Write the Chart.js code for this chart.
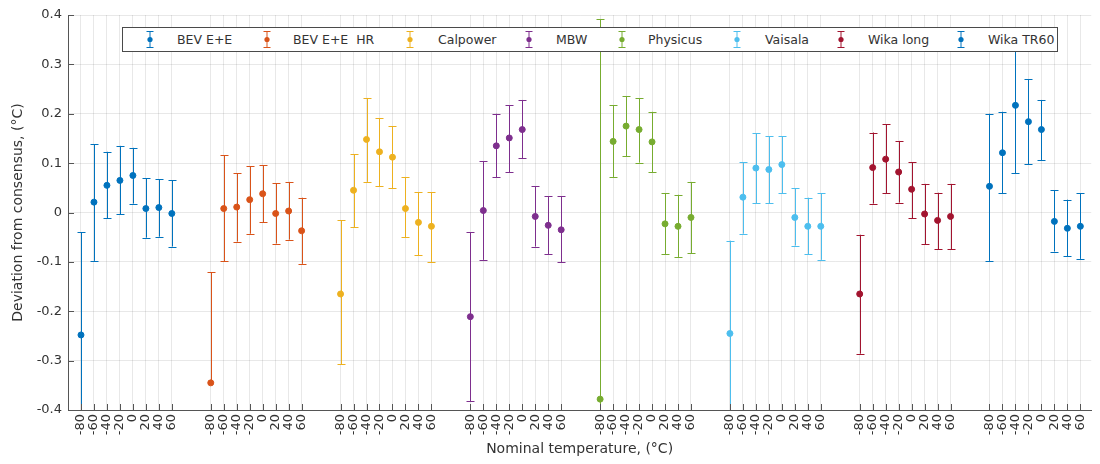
<!DOCTYPE html>
<html>
<head>
<meta charset="utf-8">
<script src="https://cdn.jsdelivr.net/npm/chart.js@4.4.1/dist/chart.umd.min.js"></script>
<style>
  html, body { margin: 0; padding: 0; background: #fff; }
  #wrap { position: relative; width: 1100px; height: 464px; }
  #legend {
    position: absolute; left: 122px; top: 27px; width: 934px; height: 23px;
    border: 1px solid #4a4a4a; background: #fff;
    font: 12.5px "DejaVu Sans", sans-serif; color: #333;
  }
  .item { position: absolute; top: 0; height: 23px; line-height: 23px; white-space: pre; }
  .icon { position: absolute; top: 2px; }
</style>
</head>
<body>
<div id="wrap">
  <canvas id="chart"></canvas>
  <div id="legend"></div>
</div>
<script>
// Nominal temperatures (tick labels) and instruments
const temps = ['-80', '-60', '-40', '-20', '0', '20', '40', '60'];
const instruments = ['BEV E+E', 'BEV E+E  HR', 'Calpower', 'MBW', 'Physicus', 'Vaisala', 'Wika long', 'Wika TR60'];
const colors = ['#0072BD', '#D95319', '#EDB120', '#7E2F8E', '#77AC30', '#4DBEEE', '#A2142F', '#0072BD'];
const groupGap = 2; // empty slots between two instruments

// Deviation from consensus (°C), lower and upper end of each error bar
const bevEe = [-0.248, 0.021, 0.055, 0.065, 0.075, 0.008, 0.010, -0.002];
const bevEeLo = [-0.456, -0.098, -0.012, -0.004, 0.018, -0.051, -0.049, -0.069];
const bevEeHi = [-0.040, 0.138, 0.123, 0.135, 0.131, 0.069, 0.067, 0.065];

const bevHr = [-0.345, 0.008, 0.011, 0.026, 0.038, -0.002, 0.003, -0.037];
const bevHrLo = [-0.345, -0.099, -0.059, -0.043, -0.020, -0.063, -0.055, -0.104];
const bevHrHi = [-0.121, 0.116, 0.080, 0.094, 0.096, 0.059, 0.062, 0.030];

const calpower = [-0.165, 0.045, 0.148, 0.123, 0.112, 0.008, -0.020, -0.028];
const calpowerLo = [-0.307, -0.030, 0.062, 0.053, 0.049, -0.050, -0.087, -0.100];
const calpowerHi = [-0.016, 0.118, 0.232, 0.191, 0.175, 0.072, 0.041, 0.041];

const mbw = [-0.211, 0.004, 0.135, 0.151, 0.168, -0.008, -0.026, -0.035];
const mbwLo = [-0.382, -0.096, 0.071, 0.082, 0.110, -0.069, -0.085, -0.101];
const mbwHi = [-0.040, 0.104, 0.200, 0.217, 0.228, 0.053, 0.033, 0.033];

const physicus = [-0.378, 0.144, 0.175, 0.168, 0.143, -0.023, -0.028, -0.010];
const physicusLo = [-1.150, 0.072, 0.114, 0.101, 0.082, -0.084, -0.090, -0.083];
const physicusHi = [0.392, 0.217, 0.236, 0.231, 0.204, 0.039, 0.036, 0.062];

const vaisala = [-0.245, 0.031, 0.090, 0.087, 0.097, -0.010, -0.028, -0.028];
const vaisalaLo = [-0.433, -0.043, 0.019, 0.019, 0.039, -0.067, -0.085, -0.096];
const vaisalaHi = [-0.057, 0.102, 0.160, 0.154, 0.154, 0.049, 0.030, 0.039];

const wikaLong = [-0.165, 0.091, 0.108, 0.082, 0.047, -0.003, -0.016, -0.008];
const wikaLongLo = [-0.286, 0.018, 0.039, 0.020, -0.012, -0.064, -0.074, -0.074];
const wikaLongHi = [-0.045, 0.162, 0.179, 0.145, 0.102, 0.058, 0.040, 0.058];

const wikaTr60 = [0.053, 0.121, 0.217, 0.184, 0.168, -0.018, -0.032, -0.028];
const wikaTr60Lo = [-0.098, 0.039, 0.079, 0.098, 0.106, -0.079, -0.089, -0.094];
const wikaTr60Hi = [0.200, 0.204, 0.340, 0.270, 0.228, 0.045, 0.026, 0.039];

const yTicks = [-0.4, -0.3, -0.2, -0.1, 0, 0.1, 0.2, 0.3, 0.4];

const series = [
    [bevEe, bevEeLo, bevEeHi],
    [bevHr, bevHrLo, bevHrHi],
    [calpower, calpowerLo, calpowerHi],
    [mbw, mbwLo, mbwHi],
    [physicus, physicusLo, physicusHi],
    [vaisala, vaisalaLo, vaisalaHi],
    [wikaLong, wikaLongLo, wikaLongHi],
    [wikaTr60, wikaTr60Lo, wikaTr60Hi]
];

const period = temps.length + groupGap;
const positions = [];
instruments.forEach((_, g) => temps.forEach((_, i) => positions.push(g * period + i)));

const datasets = series.map(([val, lo, hi], g) => ({
    label: instruments[g],
    data: val.map((v, i) => ({ x: g * period + i, y: v, lo: lo[i], hi: hi[i] })),
    borderColor: colors[g],
    backgroundColor: colors[g],
    pointRadius: 3,
    pointBorderWidth: 1,
    showLine: false
}));

// Draw vertical error bars with caps, clipped to the plot area
const errorBars = {
    id: 'errorBars',
    beforeDatasetsDraw(chart) {
        const { ctx, chartArea: a, scales: { x, y } } = chart;
        ctx.save();
        ctx.beginPath();
        ctx.rect(a.left, a.top, a.right - a.left, a.bottom - a.top);
        ctx.clip();
        chart.data.datasets.forEach(ds => {
            ctx.strokeStyle = ds.borderColor;
            ctx.lineWidth = 1;
            ds.data.forEach(p => {
                const px = Math.round(x.getPixelForValue(p.x)) + 0.5;
                ctx.beginPath();
                ctx.moveTo(px, y.getPixelForValue(p.lo));
                ctx.lineTo(px, y.getPixelForValue(p.hi));
                [p.lo, p.hi].forEach(v => {
                    if (v === p.y) return;
                    const py = Math.round(y.getPixelForValue(v)) + 0.5;
                    ctx.moveTo(px - 4, py);
                    ctx.lineTo(px + 4, py);
                });
                ctx.stroke();
            });
        });
        ctx.restore();
    }
};

// MATLAB style ticks pointing into the axes
const innerTicks = {
    id: 'innerTicks',
    afterDatasetsDraw(chart) {
        const { ctx, chartArea: a, scales: { x, y } } = chart;
        ctx.save();
        ctx.strokeStyle = '#555';
        ctx.lineWidth = 1;
        ctx.beginPath();
        y.ticks.forEach(t => {
            const py = Math.round(y.getPixelForValue(t.value)) + 0.5;
            ctx.moveTo(a.left, py);
            ctx.lineTo(a.left + 6, py);
        });
        x.ticks.forEach(t => {
            const px = Math.round(x.getPixelForValue(t.value)) + 0.5;
            ctx.moveTo(px, a.bottom);
            ctx.lineTo(px, a.bottom - 6);
        });
        ctx.stroke();
        ctx.restore();
    }
};

const font = { family: '"DejaVu Sans", sans-serif', size: 13 };

new Chart(document.getElementById('chart'), {
    type: 'scatter',
    data: { datasets },
    options: {
        responsive: true,
        maintainAspectRatio: false,
        animation: false,
        layout: { padding: { left: 0, right: 0, top: 15, bottom: 0 } },
        plugins: { legend: { display: false }, tooltip: { enabled: false } },
        scales: {
            x: {
                type: 'linear',
                min: -1,
                max: 77.84,
                afterBuildTicks: scale => { scale.ticks = positions.map(v => ({ value: v })); },
                afterFit: scale => { scale.height = 54; },
                grid: { color: 'rgba(0,0,0,0.09)', drawTicks: false },
                border: { color: '#555', width: 1 },
                ticks: {
                    autoSkip: false,
                    minRotation: 90,
                    maxRotation: 90,
                    padding: 4,
                    color: '#333',
                    font,
                    callback: v => temps[v % period]
                },
                title: {
                    display: true,
                    text: 'Nominal temperature, (°C)',
                    color: '#333',
                    font: { family: font.family, size: 14 },
                    padding: { top: 0, bottom: 6 }
                }
            },
            y: {
                min: -0.4,
                max: 0.4,
                afterBuildTicks: scale => { scale.ticks = yTicks.map(v => ({ value: v })); },
                afterFit: scale => { scale.width = 68; },
                grid: { color: 'rgba(0,0,0,0.09)', drawTicks: false },
                border: { color: '#555', width: 1 },
                ticks: {
                    padding: 6,
                    color: '#333',
                    font,
                    callback: v => String(Math.round(v * 10) / 10)
                },
                title: {
                    display: true,
                    text: 'Deviation from consensus, (°C)',
                    color: '#333',
                    font: { family: font.family, size: 14 },
                    padding: { top: 10, bottom: 0 }
                }
            }
        }
    },
    plugins: [errorBars, innerTicks]
});

// Legend box drawn over the plot, like the original
const iconX = [150, 267, 410, 529, 622, 737, 841, 961];
const textX = [177, 293, 438, 556, 648, 765, 868, 988];
const legend = document.getElementById('legend');
instruments.forEach((name, g) => {
    const icon = document.createElement('div');
    icon.className = 'item';
    icon.style.left = (iconX[g] - 123 - 5) + 'px';
    icon.innerHTML = '<svg class="icon" width="10" height="19" viewBox="0 0 10 19">' +
        '<path d="M5 1.5V17.5M1.5 1.5H8.5M1.5 17.5H8.5" stroke="' + colors[g] + '" stroke-width="1" fill="none"/>' +
        '<circle cx="5" cy="9.5" r="2.6" fill="' + colors[g] + '"/></svg>';
    legend.appendChild(icon);
    const label = document.createElement('div');
    label.className = 'item';
    label.style.left = (textX[g] - 123) + 'px';
    label.textContent = name;
    legend.appendChild(label);
});
</script>
</body>
</html>
